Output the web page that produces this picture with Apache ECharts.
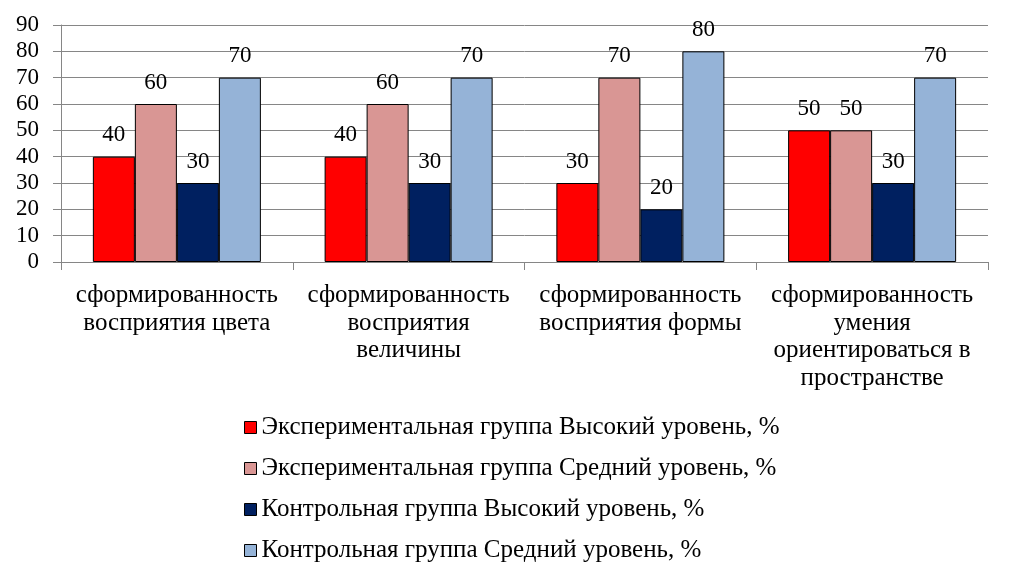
<!DOCTYPE html>
<html><head><meta charset="utf-8">
<script src="https://cdn.jsdelivr.net/npm/echarts@6/dist/echarts.min.js"></script>
<style>html,body{margin:0;padding:0;background:#fff}#c{width:1013px;height:575px}</style>
</head><body><div id="c"></div>
<script>
const categories = [
  "сформированность\nвосприятия цвета",
  "сформированность\nвосприятия\nвеличины",
  "сформированность\nвосприятия формы",
  "сформированность\nумения\nориентироваться в\nпространстве"
];
const seriesNames = [
  "Экспериментальная группа Высокий уровень, %",
  "Экспериментальная группа Средний уровень, %",
  "Контрольная группа Высокий уровень, %",
  "Контрольная группа Средний уровень, %"
];
const expHigh = [40, 40, 30, 50];
const expMid = [60, 60, 70, 50];
const ctrlHigh = [30, 30, 20, 30];
const ctrlMid = [70, 70, 80, 70];
const colors = ["#FF0000", "#D99694", "#002060", "#95B3D7"];

const font = "Liberation Serif";
const allData = [expHigh, expMid, ctrlHigh, ctrlMid];
const chart = echarts.init(document.getElementById('c'));
chart.setOption({
  animation: false,
  textStyle: { fontFamily: font },
  grid: { left: 61, right: 25, top: 25, bottom: 313, containLabel: false },
  legend: {
    orient: 'vertical', left: 239, top: 410,
    itemWidth: 12, itemHeight: 12, itemGap: 16,
    icon: 'rect',
    itemStyle: { borderColor: '#000', borderWidth: 1 },
    textStyle: { fontFamily: font, fontSize: 25, color: '#000', lineHeight: 24, padding: [0, 0, 0, 0] },
    data: seriesNames
  },
  xAxis: {
    type: 'category', data: categories,
    axisLine: { lineStyle: { color: '#868686' } },
    axisTick: { show: true, length: 8, lineStyle: { color: '#868686' } },
    axisLabel: { color: '#000', fontSize: 25, fontFamily: font, lineHeight: 27.5, margin: 20, interval: 0 }
  },
  yAxis: {
    type: 'value', min: 0, max: 90, interval: 10,
    axisLine: { show: true, lineStyle: { color: '#868686' } },
    axisTick: { show: true, length: 8, lineStyle: { color: '#868686' } },
    splitLine: { lineStyle: { color: '#868686' } },
    axisLabel: { color: '#000', fontSize: 23, fontFamily: font, margin: 22 }
  },
  series: seriesNames.map((n, i) => ({
    name: n, type: 'bar', data: allData[i],
    barGap: '0%', barCategoryGap: '27.5%',
    itemStyle: { color: colors[i], borderColor: '#000', borderWidth: 1 },
    label: { show: true, position: 'top', distance: 10, color: '#000', fontSize: 23, fontFamily: font }
  }))
});
</script></body></html>
